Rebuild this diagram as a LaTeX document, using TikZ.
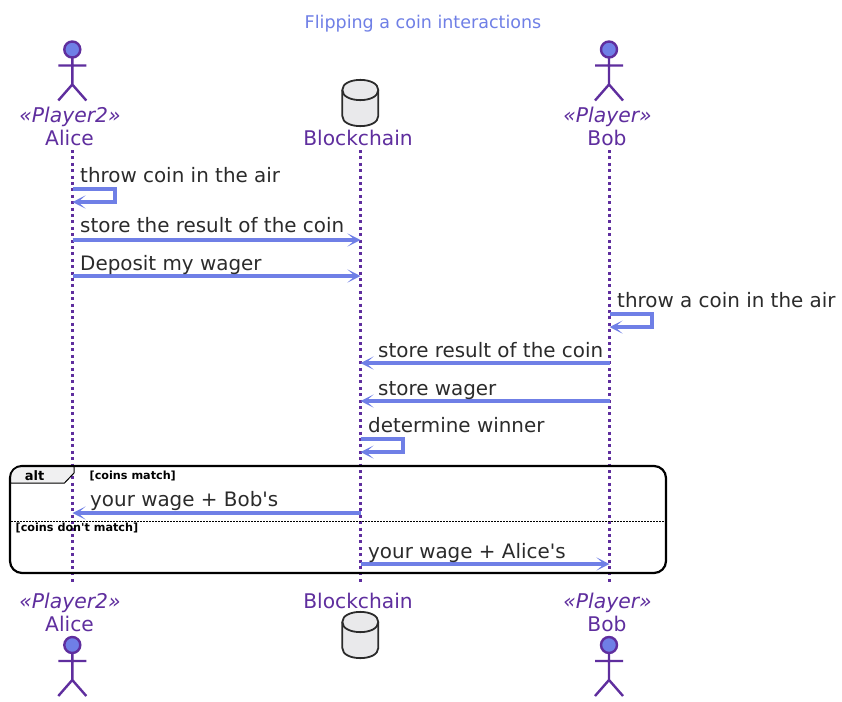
\documentclass[tikz,border=0pt]{standalone}
\usepackage{fontspec}
\setmainfont{DejaVu Sans}
\newfontfamily\plainsans{DejaVu Sans}
\usetikzlibrary{arrows.meta}
\definecolor{pur}{HTML}{5F2E9E}
\definecolor{blu}{HTML}{6F7FE6}
\definecolor{txt}{HTML}{2B2B2B}
\definecolor{cyl}{HTML}{E9E9EB}
\tikzset{
  lifeline/.style={pur,line width=3.2pt,dash pattern=on 3pt off 3.4pt},
  arrowline/.style={draw=blu,-{Stealth[length=13pt,width=13pt,inset=7.5pt]},line width=3.1pt},
  msgtext/.style={anchor=base west,inner sep=0pt,txt,font=\fontsize{19.9}{22}\plainsans\selectfont},
  parttext/.style={anchor=base,inner sep=0pt,pur,font=\fontsize{20.2}{22}\selectfont},
  stereo/.style={anchor=base,inner sep=0pt,pur,font=\fontsize{20.3}{22}\itshape\selectfont},
  guard/.style={anchor=base west,inner sep=0pt,black,font=\fontsize{11.2}{13}\plainsans\bfseries\selectfont},
  pics/actorfig/.style={code={
    \draw[pur,line width=2.4pt,fill=blu] (0,0) circle[radius=8];
    \draw[pur,line width=2.4pt] (0,8) -- (0,35) (-14,16) -- (14,16) (-14,51) -- (0,35) -- (14,51);
  }},
  pics/dbfig/.style={code={
    \draw[txt,line width=1.8pt,fill=cyl,line join=round]
      (-18,10) .. controls (-18,-3.5) and (18,-3.5) .. (18,10)
      -- (18,36) .. controls (18,49.5) and (-18,49.5) .. (-18,36) -- cycle;
    \draw[txt,line width=1.8pt] (-18,10) .. controls (-18,23.5) and (18,23.5) .. (18,10);
  }}
}
\begin{document}
\begin{tikzpicture}[x=1pt,y=-1pt]
\useasboundingbox (0,0) rectangle (842,701);
\fill[white] (0,0) rectangle (842,701);
\coordinate (alice) at (72.5,150);
\coordinate (chain) at (360.5,150);
\coordinate (bob) at (609.5,150);
\coordinate (aliceEnd) at (72.5,585);
\coordinate (chainEnd) at (360.5,585);
\coordinate (bobEnd) at (609.5,585);
\node[anchor=base,inner sep=0pt,blu,font=\fontsize{17.5}{20}\selectfont] (title) at (423,29) {Flipping a coin interactions};
% lifelines
\draw[lifeline] (alice) -- (aliceEnd);
\draw[lifeline] (chain) -- (chainEnd);
\draw[lifeline] (bob) -- (bobEnd);
% participants
\pic at (72.3,49.5) {actorfig};
\pic at (609,49.5) {actorfig};
\pic at (360.3,80) {dbfig};
\pic at (72.3,645) {actorfig};
\pic at (609,645) {actorfig};
\pic at (360.3,612) {dbfig};
\node[stereo] (s1) at (70,122) {«Player2»};
\node[parttext] (p1) at (69.5,145) {Alice};
\node[parttext] (p2) at (358,145) {Blockchain};
\node[stereo] (s3) at (607.5,122) {«Player»};
\node[parttext] (p3) at (607,145) {Bob};
\node[stereo] (s4) at (70,608) {«Player2»};
\node[parttext] (p4) at (69.5,631) {Alice};
\node[parttext] (p5) at (358,608) {Blockchain};
\node[stereo] (s6) at (607.5,608) {«Player»};
\node[parttext] (p6) at (607,631) {Bob};
% alt frame
\draw[black,line width=2.2pt,rounded corners=12pt] (10,466) rectangle (666,573);
\draw[black,line width=1pt,fill=cyl!70!white,rounded corners=0pt]
  (74,466.5) -- (74,473) -- (64.5,483) -- (10.5,483) -- (10.5,478) .. controls (10.5,471) and (15,466.5) .. (22,466.5) -- cycle;
\draw[black,line width=1pt,dash pattern=on 1.5pt off 1.5pt] (11,521) -- (665,521);
\node[anchor=base,inner sep=0pt,black,font=\fontsize{13}{15}\bfseries\selectfont] (alt) at (34.5,480) {alt};
\node[guard] (g1) at (89.5,479) {[coins match]};
\node[guard] (g2) at (15.5,531.5) {[coins don't match]};
% messages
\draw[arrowline] (alice |- 0,189) -- (115,189) -- (115,202) -- (alice |- 0,202);
\node[msgtext] (t1) at (80,182) {throw coin in the air};
\draw[arrowline] (alice |- 0,240) -- (chain |- 0,240);
\node[msgtext] (t2) at (80,232) {store the result of the coin};
\draw[arrowline] (alice |- 0,276) -- (chain |- 0,276);
\node[msgtext] (t3) at (80,270) {Deposit my wager};
\draw[arrowline] (bob |- 0,314) -- (652,314) -- (652,327) -- (bob |- 0,327);
\node[msgtext] (t4) at (617,307) {throw a coin in the air};
\draw[arrowline] (bob |- 0,363) -- (chain |- 0,363);
\node[msgtext] (t5) at (378,357) {store result of the coin};
\draw[arrowline] (bob |- 0,401) -- (chain |- 0,401);
\node[msgtext] (t6) at (378,395) {store wager};
\draw[arrowline] (chain |- 0,439) -- (403,439) -- (403,452) -- (chain |- 0,452);
\node[msgtext] (t7) at (368,432) {determine winner};
\draw[arrowline] (chain |- 0,513) -- (alice |- 0,513);
\node[msgtext] (t8) at (90,506) {your wage + Bob's};
\draw[arrowline] (chain |- 0,564) -- (bob |- 0,564);
\node[msgtext] (t9) at (368,558) {your wage + Alice's};
\end{tikzpicture}
\end{document}
